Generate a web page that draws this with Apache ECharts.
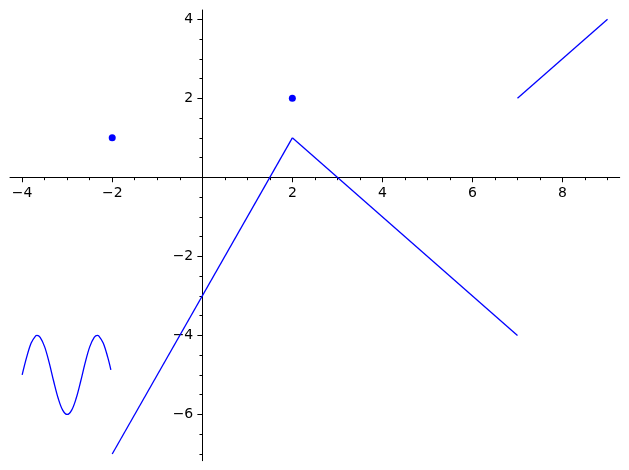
<!DOCTYPE html>
<html>
<head>
<meta charset="utf-8">
<script src="https://cdn.jsdelivr.net/npm/echarts@6/dist/echarts.min.js"></script>
<style>html,body{margin:0;padding:0;background:#fff}#c{width:629px;height:470px}</style>
</head>
<body>
<div id="c"></div>
<script>
// Sine-like piece on [-4,-2]
const sineX = [-4.0,-3.9,-3.8,-3.7,-3.67,-3.6,-3.5,-3.4,-3.3,-3.2,-3.1,-3.0,-2.9,-2.8,-2.7,-2.6,-2.5,-2.4,-2.33,-2.3,-2.2,-2.1,-2.03];
const sineY = [-5.0,-4.55,-4.19,-4.01,-4.0,-4.05,-4.29,-4.69,-5.16,-5.59,-5.89,-6.0,-5.89,-5.59,-5.16,-4.69,-4.29,-4.05,-4.0,-4.01,-4.19,-4.55,-4.87];
// Straight segments
const seg1X = [-2, 2];  const seg1Y = [-7, 1];
const seg2X = [2, 7];   const seg2Y = [1, -4];
const seg3X = [7, 9];   const seg3Y = [2, 4];
// Isolated points
const ptX = [-2, 2];    const ptY = [1, 2];
// Ticks
const xMajor = [-4, -2, 0, 2, 4, 6, 8];
const xLabels = [-4, -2, 2, 4, 6, 8];
const xMinor = [-3.5,-3,-2.5,-1.5,-1,-0.5,0.5,1,1.5,2.5,3,3.5,4.5,5,5.5,6.5,7,7.5,8.5,9];
const yMajor = [-6, -4, -2, 0, 2, 4];
const yLabels = [-6, -4, -2, 2, 4];
const yMinor = [-7,-6.5,-5.5,-5,-4.5,-3.5,-3,-2.5,-1.5,-1,-0.5,0.5,1,1.5,2.5,3,3.5];

const zip = (a, b) => a.map((v, i) => [v, b[i]]);
const fmt = v => String(v).replace('-', '\u2212');
const BLUE = '#0000ff';
const font = {fontFamily: 'DejaVu Sans', fontSize: 14, color: '#000'};
const xRange = {min: -4.27, max: 9.27};
const yRange = {min: -7.17, max: 4.235};

const W = 629, H = 470;
const G = {left: 10, right: 9.3, top: 10, bottom: 9.3};
const gw = W - G.left - G.right, gh = H - G.top - G.bottom;
// place the axes where the other axis is zero
const yAxisOffset = -(0 - xRange.min) / (xRange.max - xRange.min) * gw;
const xAxisOffset = -(0 - yRange.min) / (yRange.max - yRange.min) * gh;

const lineSeries = (x, y, smooth) => ({
  type: 'line', data: zip(x, y), showSymbol: false, smooth: smooth || false,
  xAxisIndex: 0, yAxisIndex: 0,
  lineStyle: {color: BLUE, width: 1.3}, itemStyle: {color: BLUE}, silent: true
});

const tickStyle = {color: '#000', width: 1};
const chart = echarts.init(document.getElementById('c'), null, {renderer: 'canvas'});
chart.setOption({
  animation: false,
  backgroundColor: '#fff',
  grid: Object.assign({containLabel: false, outerBoundsMode: 'none'}, G),
  xAxis: [
    Object.assign({type: 'value', position: 'bottom', offset: xAxisOffset, splitLine: {show: false},
      axisLine: {show: true, onZero: false, lineStyle: {color: '#000', width: 1}},
      axisTick: {show: true, length: 4.9, lineStyle: tickStyle, customValues: xMajor},
      axisLabel: Object.assign({show: true, margin: 9, customValues: xLabels, formatter: fmt}, font)
    }, xRange),
    Object.assign({type: 'value', position: 'bottom', offset: xAxisOffset, splitLine: {show: false},
      axisLine: {show: false, onZero: false},
      axisTick: {show: true, length: 2.8, lineStyle: tickStyle, customValues: xMinor},
      axisLabel: {show: false}
    }, xRange)
  ],
  yAxis: [
    Object.assign({type: 'value', position: 'left', offset: yAxisOffset, splitLine: {show: false},
      axisLine: {show: true, onZero: false, lineStyle: {color: '#000', width: 1}},
      axisTick: {show: true, length: 4.9, lineStyle: tickStyle, customValues: yMajor},
      axisLabel: Object.assign({show: true, margin: 9, customValues: yLabels, formatter: fmt}, font)
    }, yRange),
    Object.assign({type: 'value', position: 'left', offset: yAxisOffset, splitLine: {show: false},
      axisLine: {show: false, onZero: false},
      axisTick: {show: true, length: 2.8, lineStyle: tickStyle, customValues: yMinor},
      axisLabel: {show: false}
    }, yRange)
  ],
  series: [
    lineSeries(sineX, sineY, 0.35),
    lineSeries(seg1X, seg1Y),
    lineSeries(seg2X, seg2Y),
    lineSeries(seg3X, seg3Y),
    {type: 'scatter', data: zip(ptX, ptY), symbol: 'circle', symbolSize: 7,
     xAxisIndex: 0, yAxisIndex: 0, itemStyle: {color: BLUE, opacity: 1}, silent: true}
  ]
});
</script>
</body>
</html>
